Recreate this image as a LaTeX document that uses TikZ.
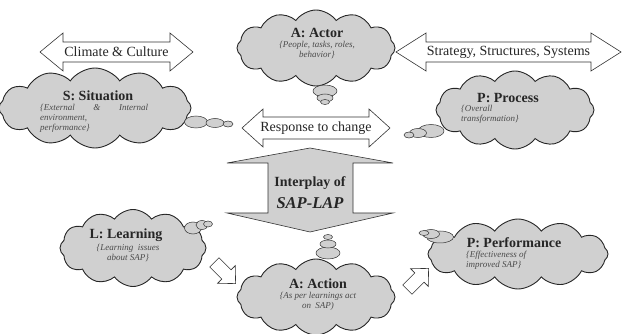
\documentclass[tikz,border=0pt]{standalone}
\usepackage{fontspec}
\setmainfont{Liberation Serif}
\usetikzlibrary{shapes.symbols,shapes.geometric}

\definecolor{cloudgray}{HTML}{D0D0D0}
\definecolor{notegray}{HTML}{4A4A4A}

\tikzset{
  puff/.style={cloud, cloud puffs=12, cloud puff arc=110, draw=black!85,
    line width=0.9pt, fill=cloudgray, inner sep=0pt},
  bubble/.style={ellipse, draw=black!80, line width=0.5pt, fill=cloudgray,
    inner sep=0pt},
  title/.style={font=\fontsize{14}{16}\selectfont\bfseries, text=black!85,
    inner sep=0pt},
  note/.style={font=\fontsize{9}{10}\selectfont\itshape, text=notegray,
    inner sep=0pt},
  banner/.style={font=\fontsize{14}{16}\selectfont, text=black!85, inner sep=0pt},
  outline/.style={draw=black!80, line width=0.6pt, line join=miter, fill=white},
  bigarrow/.style={draw=black!80, line width=0.6pt, line join=miter, fill=cloudgray},
}

% horizontal double block arrow: left x, right x, centre y,
% half shaft height, half head height, head length
\newcommand\HDArrow[6]{%
  \draw[outline] (#1,#3) -- (#1+#6,#3-#5) -- (#1+#6,#3-#4) -- (#2-#6,#3-#4)
    -- (#2-#6,#3-#5) -- (#2,#3) -- (#2-#6,#3+#5) -- (#2-#6,#3+#4)
    -- (#1+#6,#3+#4) -- (#1+#6,#3+#5) -- cycle;}

% small hollow block arrow pointing along +x before rotation
\newcommand\SmallArrow{%
  \draw[outline] (-15,-6.5) -- (2,-6.5) -- (2,-12.5) -- (15,0) -- (2,12.5)
    -- (2,6.5) -- (-15,6.5) -- cycle;}

\begin{document}
\begin{tikzpicture}[x=1pt, y=-1pt]
\useasboundingbox (0,0) rectangle (622,334);

% ---- banner arrows ----
\HDArrow{40}{193}{52}{10}{19}{23}
\node[banner] (climate) at (116.5,52) {Climate \& Culture};

\HDArrow{396}{621}{52}{10}{19}{30}
\node[banner] (strategy) at (508.5,52) {Strategy, Structures, Systems};

\HDArrow{242}{390}{128}{11}{19}{21}
\node[banner] (response) at (316,128) {Response to change};

% ---- central two-way arrow ----
\draw[bigarrow] (310,148) -- (393,163) -- (353,163) -- (353,213) -- (393,213)
  -- (310,232) -- (227,213) -- (268,213) -- (268,163) -- (227,163) -- cycle;
\node[font=\fontsize{14}{16}\selectfont\bfseries, text=black!85, inner sep=0pt]
  (interplay) at (310,183) {Interplay of};
\node[font=\fontsize{16.5}{18}\selectfont\bfseries\itshape, text=black!85, inner sep=0pt]
  (saplap) at (310,203) {SAP-LAP};

% ---- S: Situation ----
\node[puff, minimum width=192pt, minimum height=80pt] (situation) at (95,108) {};
\node[bubble, minimum width=23pt, minimum height=12pt] (s1) at (196,122) {};
\node[bubble, minimum width=18pt, minimum height=9pt] (s2) at (215,123) {};
\node[bubble, minimum width=10pt, minimum height=6pt] (s3) at (228,124) {};
\node[title] (stitle) at (98,96) {S: Situation};
\node[note, anchor=north west, text width=108pt, align=left] (snote) at (40,104)
  {\{External\hfill\&\hfill Internal\\ environment,\\ performance\}};

% ---- A: Actor ----
\node[puff, minimum width=158pt, minimum height=76pt] (actor) at (316,48) {};
\node[bubble, minimum width=24pt, minimum height=12pt] (a1) at (325,91) {};
\node[bubble, minimum width=16pt, minimum height=8pt] (a2) at (325,98) {};
\node[bubble, minimum width=9pt, minimum height=5pt] (a3) at (325,102) {};
\node[title] (atitle) at (317,33) {A: Actor};
\node[note, anchor=north, align=center] (anote) at (317,41)
  {\{People, tasks, roles,\\ behavior\}};

% ---- P: Process ----
\node[puff, minimum width=158pt, minimum height=78pt] (process) at (515,110) {};
\node[bubble, minimum width=26pt, minimum height=13pt] (p1) at (431,131) {};
\node[bubble, minimum width=17pt, minimum height=9pt] (p2) at (418,133) {};
\node[bubble, minimum width=10pt, minimum height=6pt] (p3) at (409,135) {};
\node[title] (ptitle) at (508,98) {P: Process};
\node[note, anchor=north west, align=left] (pnote) at (461,105)
  {\{Overall\\ transformation\}};

% ---- L: Learning ----
\node[puff, minimum width=146pt, minimum height=77pt] (learning) at (133,248) {};
\node[bubble, minimum width=17pt, minimum height=12pt] (l1) at (193,228) {};
\node[bubble, minimum width=12pt, minimum height=9pt] (l2) at (202,225) {};
\node[bubble, minimum width=9pt, minimum height=6pt] (l3) at (208,224) {};
\node[title] (ltitle) at (126,235) {L: Learning};
\node[note, anchor=north, align=center] (lnote) at (128,244)
  {\{Learning\ \ issues\\ about SAP\}};

% ---- A: Action ----
\node[puff, minimum width=158pt, minimum height=76pt] (action) at (316,297) {};
\node[bubble, minimum width=24pt, minimum height=12pt] (c1) at (328,253) {};
\node[bubble, minimum width=16pt, minimum height=8pt] (c2) at (328,244) {};
\node[bubble, minimum width=9pt, minimum height=5pt] (c3) at (328,237) {};
\node[title] (ctitle) at (318,284) {A: Action};
\node[note, anchor=north, align=center] (cnote) at (318,292)
  {\{As per learnings act\\ on\ \ SAP)};

% ---- P: Performance ----
\node[puff, minimum width=180pt, minimum height=70pt] (performance) at (518,254) {};
\node[bubble, minimum width=27pt, minimum height=12pt] (f1) at (440,237) {};
\node[bubble, minimum width=17pt, minimum height=9pt] (f2) at (431,234) {};
\node[bubble, minimum width=10pt, minimum height=5pt] (f3) at (424,233) {};
\node[title] (ftitle) at (514,243) {P: Performance};
\node[note, anchor=north west, align=left] (fnote) at (466,251)
  {\{Effectiveness of\\ improved SAP\}};

% ---- small hollow arrows ----
\begin{scope}[shift={(225,273)}, rotate=-45]
  \SmallArrow
\end{scope}
\begin{scope}[shift={(418,279)}, rotate=45]
  \SmallArrow
\end{scope}

\end{tikzpicture}
\end{document}
